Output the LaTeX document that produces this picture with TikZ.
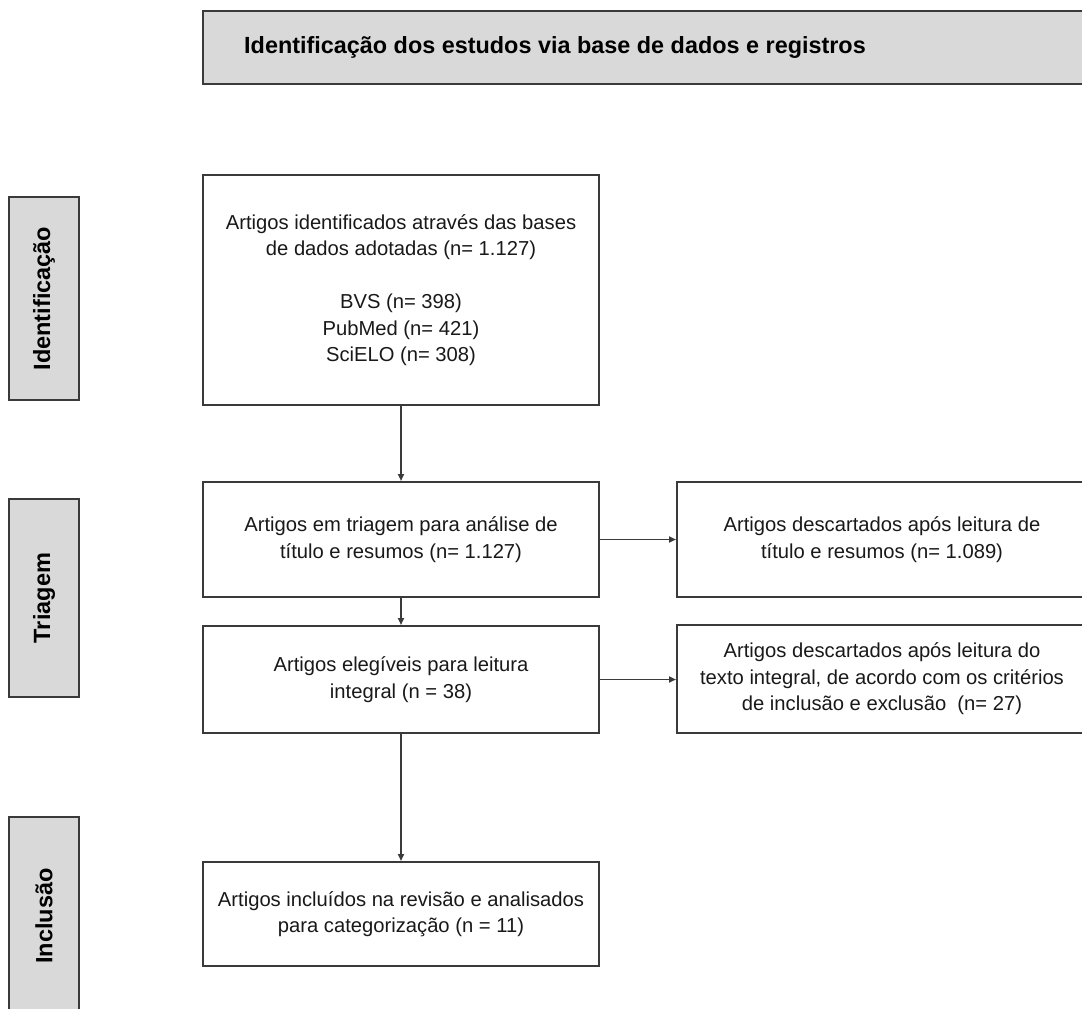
\documentclass[tikz,border=0pt]{standalone}
\usepackage{fontspec}
\setmainfont{Liberation Sans}
\usetikzlibrary{arrows.meta}
\definecolor{linec}{HTML}{3A3A3A}
\definecolor{grayfill}{HTML}{D9D9D9}
\begin{document}
\begin{tikzpicture}[x=1pt,y=-1pt,
  box/.style={draw=linec, line width=2pt, fill=white, inner sep=0pt, align=center,
    font=\fontsize{20.2}{26.5}\selectfont, text=black!90},
  mainbox/.style={box, minimum width=396pt},
  rightbox/.style={box, minimum width=410pt},
  sidebox/.style={draw=linec, line width=2pt, fill=grayfill, inner sep=0pt, rotate=90,
    minimum height=70pt, font=\fontsize{23.5}{28}\selectfont\bfseries},
  conn/.style={draw=linec, line width=1.8pt, -{Triangle[length=7pt,width=6pt]}}]
\clip (0,0) rectangle (1082,1009);
\fill[white] (0,0) rectangle (1082,1009);
% header
\draw[draw=linec, line width=2pt, fill=grayfill] (203,11) rectangle (1100,84);
\node[font=\fontsize{23.4}{28}\selectfont\bfseries] (title) at (555,47.5) {Identificação dos estudos via base de dados e registros};
% side labels
\node[sidebox, minimum width=203pt] (s1) at (44,298.5) {Identificação};
\node[sidebox, minimum width=198pt] (s2) at (44,598) {Triagem};
\node[sidebox, minimum width=198pt] (s3) at (44,916) {Inclusão};
% main boxes
\node[mainbox, minimum height=230pt] (b1) at (401,290) {Artigos identificados através das bases\\de dados adotadas (n= 1.127)\\[26.5pt]BVS (n= 398)\\PubMed (n= 421)\\SciELO (n= 308)};
\node[mainbox, minimum height=115pt] (b2) at (401,539.5) {Artigos em triagem para análise de\\título e resumos (n= 1.127)};
\node[mainbox, minimum height=107pt] (b4) at (401,679.5) {Artigos elegíveis para leitura\\integral (n = 38)};
\node[mainbox, minimum height=104pt] (b6) at (401,914) {Artigos incluídos na revisão e analisados\\para categorização (n = 11)};
\node[rightbox, minimum height=115pt] (b3) at (882,539.5) {Artigos descartados após leitura de\\título e resumos (n= 1.089)};
\node[rightbox, minimum height=108pt] (b5) at (882,679) {Artigos descartados após leitura do\\texto integral, de acordo com os critérios\\de inclusão e exclusão~~(n= 27)};
% connectors
\draw[conn] (b1.south) -- (b2.north);
\draw[conn] (b2.south) -- (b4.north);
\draw[conn] (b4.south) -- (b6.north);
\draw[conn] (b2.east) -- (b3.west);
\draw[conn] (b4.east) -- (b4.east -| b5.west);
\end{tikzpicture}
\end{document}
